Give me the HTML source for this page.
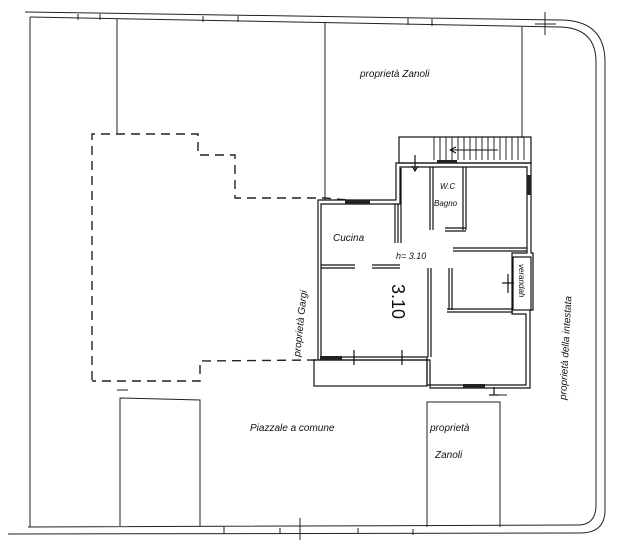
<!DOCTYPE html>
<html><head><meta charset="utf-8"><style>
html,body{margin:0;padding:0;background:#fff;}
svg{display:block;}
text{font-family:"Liberation Sans",sans-serif;font-style:italic;fill:#111;}
</style></head><body>
<svg width="618" height="546" viewBox="0 0 618 546" xmlns="http://www.w3.org/2000/svg">
<g fill="none" stroke="#222" stroke-width="1">
<path d="M25,12 L560,20"/>
<path d="M30,17 L560,27 Q596,28 596,62 L596,505 Q596,525 578,525 L28,527"/>
<path d="M560,20 Q605,20 605,62 L605,510 Q605,533 580,533 L8,534"/>
<line x1="30" y1="17" x2="30" y2="527"/>
<line x1="545" y1="12" x2="545" y2="35"/><line x1="535" y1="24" x2="556" y2="24"/>
<line x1="300" y1="518" x2="300" y2="540"/>
<line x1="224" y1="527" x2="224" y2="534"/><line x1="280" y1="528" x2="280" y2="534"/>
<line x1="358" y1="528" x2="358" y2="534"/><line x1="413" y1="529" x2="413" y2="535"/>
<line x1="78" y1="14" x2="78" y2="20"/><line x1="100" y1="14" x2="100" y2="20"/>
<line x1="203" y1="16" x2="203" y2="22"/><line x1="238" y1="16" x2="238" y2="22"/>
<line x1="408" y1="18" x2="408" y2="25"/><line x1="432" y1="19" x2="432" y2="26"/>
<line x1="117" y1="19" x2="117" y2="134"/>
<line x1="325" y1="22" x2="325" y2="200"/>
<line x1="522" y1="27" x2="522" y2="138"/>
<path d="M120,526 L120,398 L200,400 L200,526"/>
<path d="M427,527 L427,402 L500,402 L500,527"/>
<line x1="117" y1="390" x2="128" y2="390"/>
<line x1="497" y1="395" x2="507" y2="395"/>
</g>
<path d="M92,380 L92,134 L198,134 L198,155 L235,155 L235,198 L325,198 L348,200 M316,360 L200,361 L200,381 L92,381" fill="none" stroke="#222" stroke-width="1.4" stroke-dasharray="9,6"/>

<g fill="none" stroke="#111" stroke-width="1.2">
<rect x="399" y="137" width="132" height="26"/>
<g stroke-width="0.9">
<line x1="434" y1="137" x2="434" y2="160"/><line x1="440" y1="137" x2="440" y2="160"/>
<line x1="446" y1="137" x2="446" y2="160"/><line x1="452" y1="137" x2="452" y2="160"/>
<line x1="458" y1="137" x2="458" y2="160"/><line x1="464" y1="137" x2="464" y2="160"/>
<line x1="470" y1="137" x2="470" y2="160"/><line x1="476" y1="137" x2="476" y2="160"/>
<line x1="482" y1="137" x2="482" y2="160"/><line x1="488" y1="137" x2="488" y2="160"/>
<line x1="494" y1="137" x2="494" y2="160"/><line x1="500" y1="137" x2="500" y2="160"/>
<line x1="506" y1="137" x2="506" y2="160"/><line x1="512" y1="137" x2="512" y2="160"/>
<line x1="518" y1="137" x2="518" y2="160"/><line x1="524" y1="137" x2="524" y2="160"/>
<line x1="450" y1="150" x2="498" y2="150"/>
</g>
<path d="M450,150 l6,-3 M450,150 l6,3"/>
<path d="M396,163 L396,200 L318,200 L318,360 L430,360 L430,388 L530,388 L530,310 L533,310 L533,253 L531,253 L531,163 Z"/>
<path d="M400,167 L400,204 L321,204 L321,357 L427,357 L427,385 L526,385 L526,314 L512,314 L512,253 L527,253 L527,167 Z"/>
<rect x="314" y="360" width="113" height="26"/>
<line x1="401" y1="168" x2="401" y2="243"/>
<line x1="430" y1="167" x2="430" y2="230"/><line x1="433" y1="167" x2="433" y2="230"/>
<line x1="428" y1="268" x2="428" y2="357"/><line x1="431" y1="268" x2="431" y2="357"/>
<line x1="463" y1="167" x2="463" y2="230"/><line x1="466" y1="167" x2="466" y2="230"/>
<line x1="445" y1="228" x2="466" y2="228"/><line x1="445" y1="231" x2="466" y2="231"/>
<line x1="321" y1="265" x2="355" y2="265"/><line x1="321" y1="268" x2="355" y2="268"/>
<line x1="372" y1="265" x2="400" y2="265"/><line x1="372" y1="268" x2="400" y2="268"/>
<line x1="398" y1="204" x2="398" y2="243"/><line x1="395" y1="204" x2="395" y2="243"/>
<line x1="453" y1="248" x2="527" y2="248"/><line x1="453" y1="251" x2="527" y2="251"/>
<line x1="449" y1="268" x2="449" y2="310"/><line x1="452" y1="268" x2="452" y2="310"/>
<line x1="447" y1="309" x2="513" y2="309"/><line x1="447" y1="312" x2="513" y2="312"/>
<rect x="513" y="257" width="18" height="53"/>
<line x1="502" y1="283" x2="514" y2="283"/><line x1="508" y1="274" x2="508" y2="293"/>
<line x1="354" y1="350" x2="354" y2="365"/><line x1="402" y1="350" x2="402" y2="365"/>
<line x1="494" y1="387" x2="494" y2="395"/><line x1="489" y1="395" x2="499" y2="395"/>
<line x1="415" y1="155" x2="415" y2="170"/><path d="M412,166 l3,5 l3,-5"/>
</g>
<g fill="#222">
<rect x="345" y="200" width="25" height="4"/>
<rect x="320" y="356" width="22" height="4"/>
<rect x="463" y="384" width="22" height="4"/>
<rect x="527" y="175" width="4" height="20"/>
<rect x="437" y="160" width="20" height="3"/>
</g>
<text x="360" y="77" font-size="10">proprietà  Zanoli</text>
<text x="333" y="241" font-size="10">Cucina</text>
<text x="396" y="259" font-size="9">h= 3.10</text>
<text x="440" y="189" font-size="8">W.C</text>
<text x="434" y="206" font-size="8">Bagno</text>
<text transform="translate(519,264) rotate(90)" font-size="8">verandah</text>
<text transform="translate(300,357) rotate(-84)" font-size="10">proprietà  Gargi</text>
<text transform="translate(566,400) rotate(-87)" font-size="10">proprietà  della  intestata</text>
<text transform="translate(392,284) rotate(90)" font-size="18" fill="#666" style="font-style:normal;font-weight:100">3.10</text>
<text x="250" y="431" font-size="10">Piazzale  a comune</text>
<text x="430" y="431" font-size="10">proprietà</text>
<text x="435" y="458" font-size="10">Zanoli</text>
</svg>
</body></html>
